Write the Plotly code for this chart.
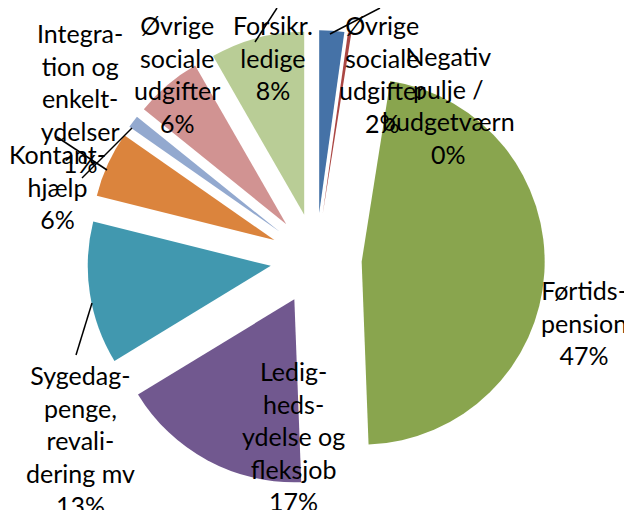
import plotly.graph_objects as go

# slices, clockwise from 12 o'clock
names = [
    "Øvrige<br>sociale<br>udgifter",
    "Negativ<br>pulje /<br>budgetværn",
    "Førtids-<br>pension",
    "Ledig-<br>heds-<br>ydelse og<br>fleksjob",
    "Sygedag-<br>penge,<br>revali-<br>dering mv",
    "Kontant-<br>hjælp",
    "Integra-<br>tion og<br>enkelt-<br>ydelser",
    "Øvrige<br>sociale<br>udgifter",
    "Forsikr.<br>ledige",
]
shares = [2.2, 0.3, 46.9, 16.9, 12.6, 5.8, 1.1, 5.9, 8.3]
colors = ["#4572A7", "#AA4643", "#89A54E", "#71588F", "#4198AF",
          "#DB843D", "#93A9CF", "#D19392", "#B9CD96"]

W, H = 632, 510
OFF = 8  # page body margin
PULL = 0.25
CX, CY, R = 316, 259, 183  # pie centre / radius, screen px
BOX = 2 * R * (1 + PULL)


def px(x, y):
    # screen px -> paper coords
    return (x - OFF) / W, 1 - (y - OFF) / H


# label centres (screen px), Excel placed them by hand
label_pos = [(382, 74), (448, 105), (584, 322), (293, 436), (80, 440),
             (57, 186), (80, 98), (177, 74), (273, 58)]

# leader lines (screen px)
leaders = [((330, 34), (380, 8)), ((255, 42), (277, 8)),
           ((132, 128), (82, 178)), ((57, 137), (107, 170)),
           ((92, 303), (76, 355))]

x0d, y1d = px(CX - BOX / 2, CY - BOX / 2)
x1d, y0d = px(CX + BOX / 2, CY + BOX / 2)

fig = go.Figure(go.Pie(
    values=shares,
    text=[n.replace("<br>", " ") for n in names],
    sort=False,
    direction="clockwise",
    rotation=0,
    pull=PULL,
    textinfo="none",
    hoverinfo="text+percent",
    marker=dict(colors=colors, line=dict(width=0)),
    domain=dict(x=[x0d, x1d], y=[y0d, y1d]),
    showlegend=False,
))

for (a, b) in leaders:
    xa, ya = px(*a)
    xb, yb = px(*b)
    fig.add_shape(type="line", xref="paper", yref="paper",
                  x0=xa, y0=ya, x1=xb, y1=yb,
                  line=dict(color="black", width=1.5))

for name, v, (lx, ly) in zip(names, shares, label_pos):
    x, y = px(lx, ly)
    fig.add_annotation(x=x, y=y, xref="paper", yref="paper",
                       text=f"{name}<br>{round(v)}%", showarrow=False,
                       xanchor="center", yanchor="middle", align="center",
                       font=dict(family="Lato", size=25, color="black"))

fig.update_layout(width=W, height=H, margin=dict(l=0, r=0, t=0, b=0),
                  paper_bgcolor="white", plot_bgcolor="white")
fig.write_html("out.html")
